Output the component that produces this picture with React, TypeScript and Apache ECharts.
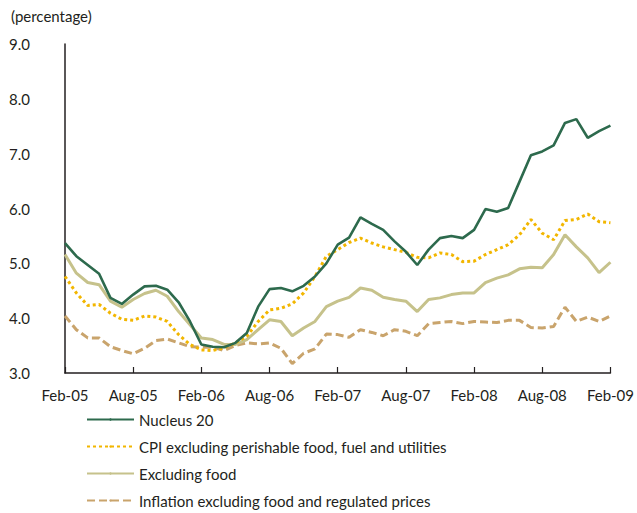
import React, { useEffect, useRef } from "react";
import * as echarts from "echarts";

const months = [
  "Feb-05","Mar-05","Apr-05","May-05","Jun-05","Jul-05","Aug-05","Sep-05","Oct-05","Nov-05","Dec-05","Jan-06",
  "Feb-06","Mar-06","Apr-06","May-06","Jun-06","Jul-06","Aug-06","Sep-06","Oct-06","Nov-06","Dec-06","Jan-07",
  "Feb-07","Mar-07","Apr-07","May-07","Jun-07","Jul-07","Aug-07","Sep-07","Oct-07","Nov-07","Dec-07","Jan-08",
  "Feb-08","Mar-08","Apr-08","May-08","Jun-08","Jul-08","Aug-08","Sep-08","Oct-08","Nov-08","Dec-08","Jan-09",
  "Feb-09"
];

const nucleus20 = [
  5.37, 5.13, 4.97, 4.81, 4.37, 4.26, 4.43, 4.58, 4.59, 4.52, 4.29, 3.94,
  3.52, 3.48, 3.47, 3.55, 3.73, 4.21, 4.53, 4.55, 4.49, 4.59, 4.76, 5.0,
  5.34, 5.47, 5.84, 5.72, 5.61, 5.40, 5.21, 4.97, 5.25, 5.46, 5.50, 5.46,
  5.61, 5.99, 5.94, 6.01, 6.49, 6.97, 7.04, 7.15, 7.56, 7.63, 7.29, 7.41,
  7.51
];

const cpiExPerishable = [
  4.76, 4.46, 4.23, 4.25, 4.09, 3.98, 3.96, 4.04, 4.02, 3.94, 3.70, 3.52,
  3.42, 3.41, 3.46, 3.55, 3.67, 3.94, 4.15, 4.18, 4.26, 4.46, 4.76, 5.13,
  5.25, 5.38, 5.46, 5.37, 5.30, 5.25, 5.20, 5.11, 5.10, 5.19, 5.16, 5.03,
  5.04, 5.16, 5.25, 5.34, 5.52, 5.80, 5.55, 5.43, 5.78, 5.80, 5.90, 5.76,
  5.74
];

const excludingFood = [
  5.16, 4.82, 4.65, 4.61, 4.31, 4.20, 4.34, 4.45, 4.51, 4.40, 4.12, 3.88,
  3.64, 3.61, 3.52, 3.52, 3.61, 3.79, 3.97, 3.94, 3.68, 3.82, 3.94, 4.21,
  4.31, 4.38, 4.55, 4.51, 4.38, 4.34, 4.31, 4.12, 4.34, 4.37, 4.43, 4.46,
  4.46, 4.65, 4.73, 4.79, 4.90, 4.93, 4.92, 5.16, 5.52, 5.30, 5.10, 4.83,
  5.02
];

const exFoodRegulated = [
  4.04, 3.79, 3.64, 3.64, 3.48, 3.41, 3.35, 3.45, 3.59, 3.62, 3.55, 3.48,
  3.47, 3.47, 3.41, 3.50, 3.55, 3.53, 3.55, 3.45, 3.17, 3.36, 3.44, 3.71,
  3.70, 3.65, 3.79, 3.74, 3.68, 3.79, 3.76, 3.68, 3.90, 3.92, 3.94, 3.90,
  3.94, 3.93, 3.92, 3.96, 3.96, 3.83, 3.82, 3.85, 4.20, 3.94, 4.02, 3.94,
  4.04
];

const seriesNames = [
  "Nucleus 20",
  "CPI excluding perishable food, fuel and utilities",
  "Excluding food",
  "Inflation excluding food and regulated prices",
];

const FONT = "Lato, 'Open Sans', sans-serif";
const TXT = "#231f20";

export default function App() {
  const ref = useRef<HTMLDivElement>(null);
  useEffect(() => {
    if (!ref.current) return;
    const chart = echarts.init(ref.current, undefined, { renderer: "svg" });
    const mk = (name: string, data: number[], color: string, width: number, type: any, z: number) => ({
      name,
      type: "line",
      data,
      symbol: "none",
      z,
      lineStyle: { color, width, type, cap: "butt" },
      itemStyle: { color },
    });
    chart.setOption({
      animation: false,
      backgroundColor: "#ffffff",
      textStyle: { fontFamily: FONT },
      grid: { left: 65, right: 24, top: 44, bottom: 140, containLabel: false },
      graphic: [
        {
          type: "text",
          left: 11,
          top: 8,
          style: { text: "(percentage)", font: `15px ${FONT}`, fill: TXT },
        },
      ],
      legend: {
        orient: "vertical",
        left: 81,
        top: 407,
        itemWidth: 47,
        itemHeight: 3,
        itemGap: 12,
        textStyle: { fontSize: 15, color: TXT, fontFamily: FONT },
        data: seriesNames,
      },
      xAxis: {
        type: "category",
        data: months,
        boundaryGap: false,
        axisLine: { lineStyle: { color: "#231f20", width: 1.5 } },
        axisTick: { inside: true, length: 6, interval: 5, alignWithLabel: true, lineStyle: { color: "#231f20", width: 1.2 } },
        axisLabel: { interval: 5, fontSize: 15, color: TXT, margin: 14, fontFamily: FONT },
        splitLine: { show: false },
      },
      yAxis: {
        type: "value",
        min: 3,
        max: 9,
        interval: 1,
        axisLine: { show: true, lineStyle: { color: "#231f20", width: 1.5 } },
        axisTick: { show: false },
        axisLabel: { fontSize: 15, color: TXT, margin: 56, align: "left", formatter: (v: number) => v.toFixed(1), fontFamily: FONT },
        splitLine: { show: false },
      },
      series: [
        mk(seriesNames[3], exFoodRegulated, "#c9a46c", 3, [8, 4], 1),
        mk(seriesNames[2], excludingFood, "#c6c28b", 3, "solid", 2),
        mk(seriesNames[1], cpiExPerishable, "#f2b600", 3, [3, 3], 3),
        mk(seriesNames[0], nucleus20, "#2d6a4d", 2.6, "solid", 4),
      ],
    });
    return () => chart.dispose();
  }, []);
  return <div ref={ref} style={{ width: 637, height: 513, position: "absolute", left: 0, top: 0 }} />;
}
